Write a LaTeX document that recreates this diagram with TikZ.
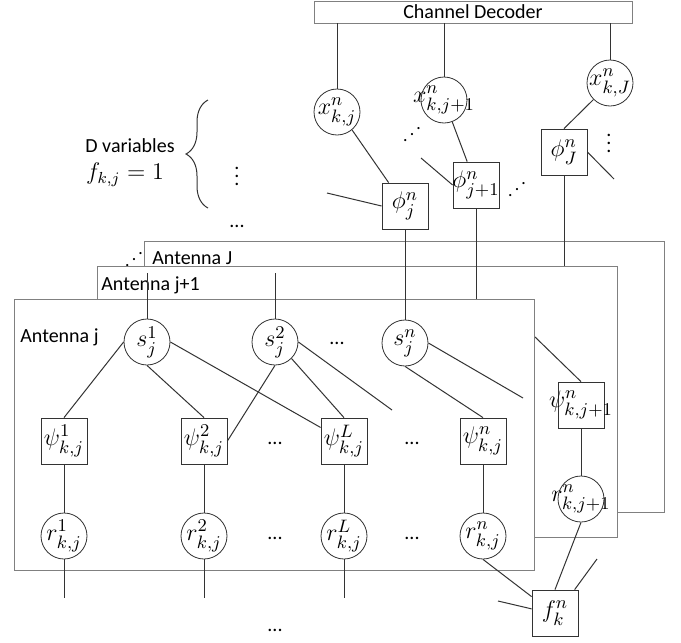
\documentclass[tikz,border=0pt]{standalone}
\usepackage{amsmath,amssymb}
\usepackage{fontspec}
\setmainfont{Carlito}
\usepackage{tikz}
\usetikzlibrary{positioning, decorations.pathreplacing}

\begin{document}
\begin{tikzpicture}[x=0.5pt, y=-0.5pt,
  every node/.style={font=\fontsize{10}{12}\selectfont},
  var/.style={circle, draw=black!80, fill=white, minimum size=23pt, inner sep=0pt,
    font=\fontsize{13}{15}\selectfont},
  fac/.style={rectangle, draw=black!80, fill=white, minimum size=23pt, inner sep=0pt,
    font=\fontsize{13}{15}\selectfont},
  antenna/.style={rectangle, draw=gray, fill=white, anchor=north west, inner sep=0pt,
    minimum width=260pt, minimum height=135.5pt},
  wire/.style={black!80, line width=0.5pt},
  dots/.style={inner sep=0pt, font=\fontsize{10}{12}\selectfont},
  slant/.style={inner sep=0pt, font=\fontsize{9}{10}\selectfont}]
  \useasboundingbox (0,0) rectangle (681,643);
  % Channel decoder
  \node[draw=gray, minimum width=159pt, minimum height=11pt, inner sep=0pt] (dec) at (473,12) {Channel Decoder};
  % Code bit nodes
  \node[var] (xj)  at (337,112) {\makebox[0pt]{$x^{n}_{k,j}$}};
  \node[var] (xj1) at (444,100) {\makebox[0pt]{$x^{n}_{k,j+1}$}};
  \node[var] (xJ)  at (610,83)  {\makebox[0pt]{$x^{n}_{k,J}$}};
  \foreach \n in {xj,xj1,xJ}
    \draw[wire] (dec.south -| \n) -- (\n);
  % Check nodes
  \node[fac] (phij)  at (405,206) {\makebox[0pt]{$\phi^{n}_{j}$}};
  \node[fac] (phij1) at (476,185) {\makebox[0pt]{$\phi^{n}_{j+1}$}};
  \node[fac] (phiJ)  at (564,152) {\makebox[0pt]{$\phi^{n}_{J}$}};
  \draw[wire] (xj.-50) -- (phij.125);
  \draw[wire] (xj1) -- (phij1);
  \draw[wire] (xJ.-135) -- (phiJ.north);
  \coordinate (pj) at (327,193);
  \coordinate (pj1) at (421,158);
  \coordinate (pJ) at (614,179);
  \draw[wire] (pj) -- (phij.west);
  \draw[wire] (pj1) -- (phij1.west);
  \draw[wire] (phiJ.east) -- (pJ);
  \node[slant] (d1) at (412,128) {\reflectbox{$\ddots$}};
  \node[slant] (d2) at (517,183) {\reflectbox{$\ddots$}};
  \node[dots] (d3) at (609,137) {$\vdots$};
  % D variables
  \node (dvar) at (130,146) {D variables};
  \node[font=\fontsize{12}{14}\selectfont] (fkj) at (125,175) {$f_{k,j}=1$};
  \draw[wire, decorate, decoration={brace, amplitude=11pt}] (208,208) -- (208,100);
  \node[dots] (d4) at (237,170) {$\vdots$};
  \node[dots] (d5) at (237,226) {...};
  % Antenna boxes
  \coordinate (cJ) at (144,241);
  \coordinate (cJ1) at (97,266);
  \coordinate (cj) at (14,299);
  \node[antenna] (antJ) at (cJ) {};
  \node[anchor=west, inner sep=0pt] (labJ) at (152,258) {Antenna J};
  \node[slant] (d6) at (134,253) {\reflectbox{$\ddots$}};
  \draw[wire] (phiJ) -- (phiJ |- cJ1);
  \node[antenna] (antJ1) at (cJ1) {};
  \node[anchor=west, inner sep=0pt] (labJ1) at (101,285) {Antenna j+1};
  \draw[wire] (phij1) -- (phij1 |- cj);
  \node[fac] (psiJ1) at (581,405) {\makebox[0pt]{$\psi^{n}_{k,j+1}$}};
  \node[var] (rJ1) at (581,499) {\makebox[0pt]{$r^{n}_{k,j+1}$}};
  \coordinate (hid) at (534,336);
  \draw[wire] (hid) -- (psiJ1.north);
  \draw[wire] (psiJ1) -- (rJ1);
  \node[antenna] (antj) at (cj) {};
  \node[anchor=west, inner sep=0pt] (labj) at (20,337) {Antenna j};
  % Symbol nodes
  \node[var] (s1) at (147,342) {\makebox[0pt]{$s^{1}_{j}$}};
  \node[var] (s2) at (275,342) {\makebox[0pt]{$s^{2}_{j}$}};
  \node[var] (sn) at (405,343) {\makebox[0pt]{$s^{n}_{j}$}};
  \node[dots] (d7) at (337,343) {...};
  \foreach \n in {s1,s2}
    \draw[wire] (\n) -- ++(0,-69);
  \draw[wire] (phij) -- (sn);
  % Observation factors and received samples
  \foreach \n/\x/\t in {1/64/1, 2/204/2, L/344/L, n/483/n} {
    \node[fac] (psi\n) at (\x,441) {\makebox[0pt]{$\psi^{\t}_{k,j}$}};
    \node[var] (r\n) at (\x,536) {\makebox[0pt]{$r^{\t}_{k,j}$}};
    \draw[wire] (psi\n) -- (r\n);
  }
  \node[dots] (d8) at (275,443) {...};
  \node[dots] (d9) at (412,443) {...};
  \node[dots] (d10) at (275,538) {...};
  \node[dots] (d11) at (412,538) {...};
  \draw[wire] (s1.west) -- (psi1.north);
  \draw[wire] (s1.south) -- (psi2.north);
  \draw[wire] (s1.east) -- (psiL.150);
  \draw[wire] (s2.south) -- (psi2.east);
  \draw[wire] (s2.-45) -- (psiL.north);
  \coordinate (e2) at (392,410);
  \draw[wire] (s2.east) -- (e2);
  \draw[wire] (sn.south) -- (psin.north);
  \coordinate (en) at (523,398);
  \draw[wire] (sn.east) -- (en);
  \foreach \n in {r1,r2,rL}
    \draw[wire] (\n) -- ++(0,62);
  \node[dots] (d12) at (275,630) {...};
  % User node
  \node[fac] (fk) at (555,613) {\makebox[0pt]{$f^{n}_{k}$}};
  \coordinate (ef) at (498,601);
  \coordinate (eg) at (597,559);
  \draw[wire] (rn.south) -- (fk.145);
  \draw[wire] (ef) -- (fk.170);
  \draw[wire] (rJ1.south) -- (fk.north);
  \draw[wire] (fk.50) -- (eg);
\end{tikzpicture}
\end{document}
